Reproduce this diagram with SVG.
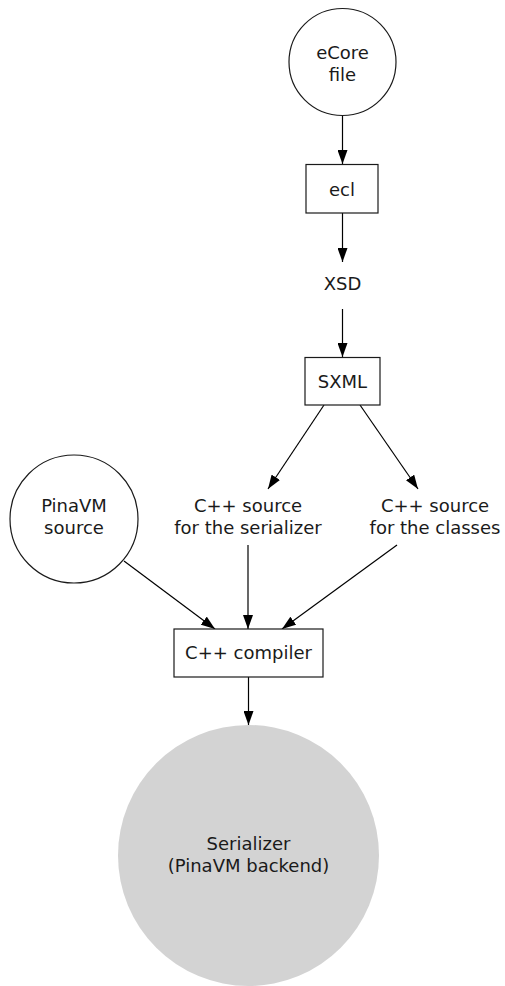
<svg xmlns="http://www.w3.org/2000/svg" width="505" height="986" viewBox="0 0 505 986">
<defs>
<marker id="ah" markerWidth="14" markerHeight="10" refX="14" refY="5" orient="auto" markerUnits="userSpaceOnUse">
<path d="M0,0 L14,5 L0,10 Z" fill="#000"/>
</marker>
<style>
text{font-family:"DejaVu Sans",sans-serif;font-size:18px;fill:#1a1a1a;text-anchor:middle;dominant-baseline:central}
.n{fill:#fff;stroke:#1a1a1a;stroke-width:1.2}
.e{stroke:#000;stroke-width:1.2;fill:none;marker-end:url(#ah)}
</style>
</defs>
<rect width="505" height="986" fill="#fff"/>
<g id="connectors">
<line class="e" x1="342.5" y1="116" x2="342.5" y2="164"/>
<line class="e" x1="342.5" y1="213" x2="342.5" y2="262"/>
<line class="e" x1="342.5" y1="309" x2="342.5" y2="357"/>
<line class="e" x1="324" y1="405" x2="268" y2="489"/>
<line class="e" x1="360" y1="405" x2="418" y2="489"/>
<line class="e" x1="124" y1="561" x2="215" y2="629"/>
<line class="e" x1="248" y1="545" x2="248" y2="629"/>
<line class="e" x1="397" y1="545" x2="282" y2="629"/>
<line class="e" x1="248.5" y1="677" x2="248.5" y2="725"/>
</g>
<g id="ecore">
<circle class="n" cx="342.5" cy="62" r="53.5"/>
<text x="342.5" y="52">eCore</text>
<text x="342.5" y="74">file</text>
</g>
<g id="ecl">
<rect class="n" x="306" y="164.5" width="72" height="48.5"/>
<text x="342" y="189">ecl</text>
</g>
<g id="xsd">
<text x="342.5" y="283">XSD</text>
</g>
<g id="sxml">
<rect class="n" x="305" y="357.5" width="75" height="47.5"/>
<text x="342.5" y="381">SXML</text>
</g>
<g id="pinavm">
<circle class="n" cx="74" cy="519" r="64"/>
<text x="74" y="505">PinaVM</text>
<text x="74" y="527">source</text>
</g>
<g id="cpp-serializer">
<text x="248" y="505">C++ source</text>
<text x="248" y="527">for the serializer</text>
</g>
<g id="cpp-classes">
<text x="435" y="505">C++ source</text>
<text x="435" y="527">for the classes</text>
</g>
<g id="compiler">
<rect class="n" x="174" y="629" width="149" height="48"/>
<text x="248.5" y="652">C++ compiler</text>
</g>
<g id="serializer">
<circle cx="248.5" cy="855.5" r="130.5" fill="#d3d3d3"/>
<text x="248.5" y="843">Serializer</text>
<text x="248.5" y="865">(PinaVM backend)</text>
</g>
</svg>
